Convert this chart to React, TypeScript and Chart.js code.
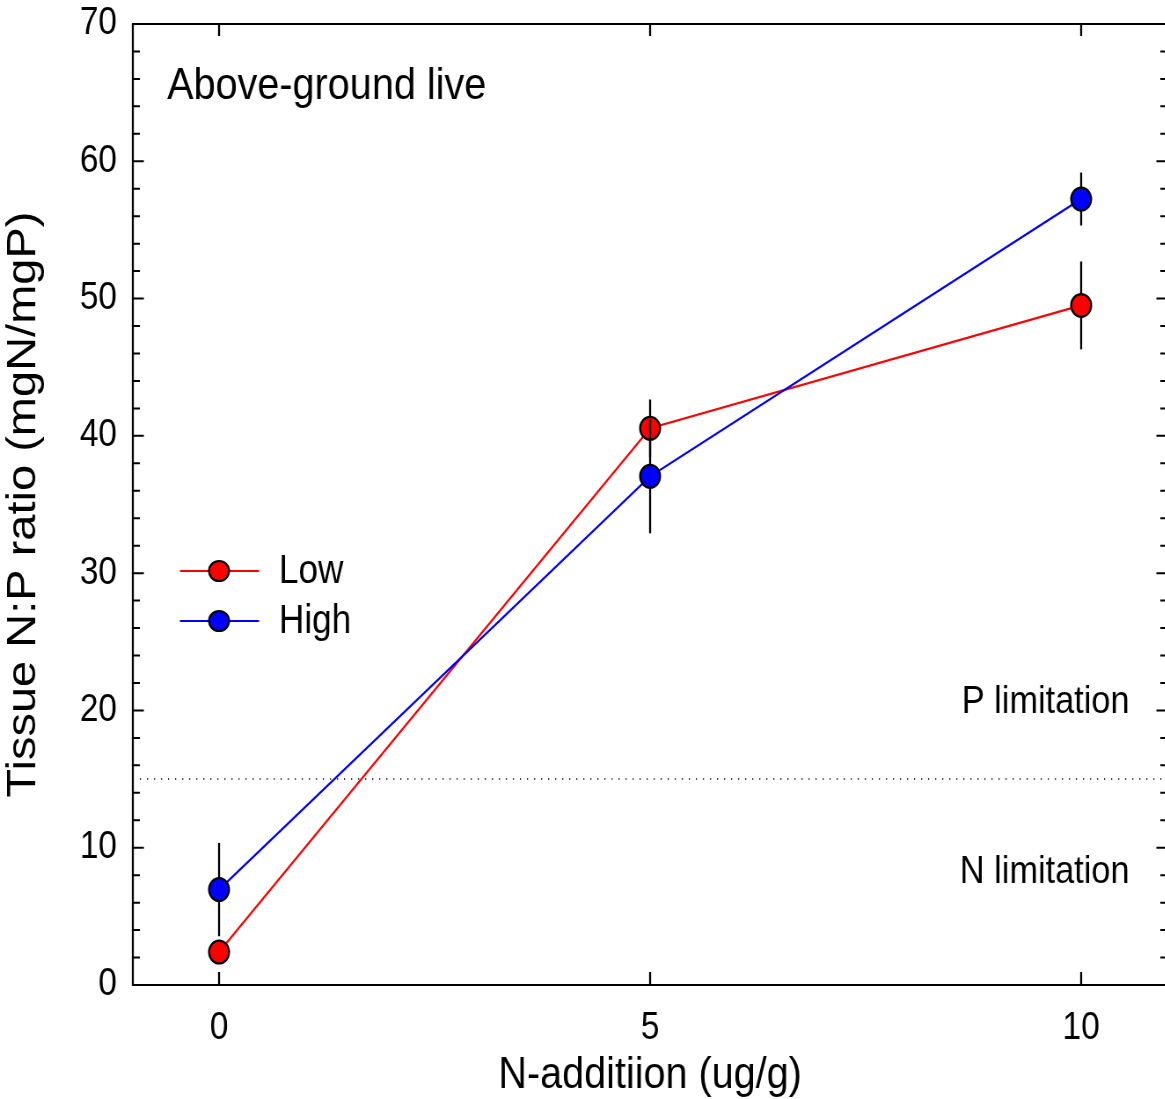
import React, { useEffect, useRef } from 'react';
import { Chart, registerables } from 'chart.js';

Chart.register(...registerables);

// ---- data ----
const nAddition = [0, 5, 10];
const lowValues = [2.4, 40.55, 49.5];
const lowErrors = [0.5, 2.1, 3.2];
const highValues = [6.95, 37.05, 57.25];
const highErrors = [3.4, 4.15, 1.93];
const seriesNames = ['Low', 'High'];
const seriesColors = ['#ff0000', '#0000ff'];
const xTicks = [0, 5, 10];
const yTicks = [0, 10, 20, 30, 40, 50, 60, 70];
const yMinorStep = 2;
const limitThreshold = 15;
const panelLabel = 'Above-ground live';
const zoneLabels = ['P limitation', 'N limitation'];
const xTitle = 'N-additiion (ug/g)';
const yTitle = 'Tissue N:P ratio (mgN/mgP)';

// ---- canvas geometry (backing px, displayed horizontally compressed) ----
const CANVAS_W = 1330;
const CANVAS_H = 1099;
const DISPLAY_W = 1170;
const FONT = "'Liberation Sans', Arial, Helvetica, sans-serif";

const errorBarPlugin = {
  id: 'errorBars',
  beforeDatasetDraw(chart: any, args: any) {
    const ds = chart.data.datasets[args.index];
    const errs: number[] = ds.errors || [];
    const { ctx, scales } = chart;
    ctx.save();
    ctx.strokeStyle = '#000';
    ctx.lineWidth = 2.3;
    ds.data.forEach((p: any, i: number) => {
      const e = errs[i];
      if (!e) return;
      const px = scales.x.getPixelForValue(p.x);
      const y1 = scales.y.getPixelForValue(p.y - e);
      const y2 = scales.y.getPixelForValue(p.y + e);
      ctx.beginPath();
      ctx.moveTo(px, y1);
      ctx.lineTo(px, y2);
      ctx.stroke();
    });
    ctx.restore();
  },
};

const thresholdPlugin = {
  id: 'threshold',
  beforeDatasetsDraw(chart: any) {
    const { ctx, chartArea: a, scales } = chart;
    const ty = scales.y.getPixelForValue(limitThreshold);
    ctx.save();
    ctx.strokeStyle = '#000';
    ctx.lineWidth = 1.4;
    ctx.setLineDash([1.3, 6.7]);
    ctx.beginPath();
    ctx.moveTo(a.left + 8, ty);
    ctx.lineTo(a.right, ty);
    ctx.stroke();
    ctx.restore();
  },
};

const framePlugin = {
  id: 'frame',
  afterDraw(chart: any) {
    const { ctx, chartArea: a, scales } = chart;
    const xs = scales.x;
    const ys = scales.y;
    ctx.save();
    ctx.strokeStyle = '#000';
    // horizontal frame lines
    ctx.lineWidth = 2;
    ctx.beginPath();
    ctx.moveTo(a.left - 1, a.top);
    ctx.lineTo(a.right + 1, a.top);
    ctx.moveTo(a.left - 1, a.bottom);
    ctx.lineTo(a.right + 1, a.bottom);
    ctx.stroke();
    // vertical frame lines
    ctx.lineWidth = 2.3;
    ctx.beginPath();
    ctx.moveTo(a.left, a.top);
    ctx.lineTo(a.left, a.bottom);
    ctx.moveTo(a.right, a.top);
    ctx.lineTo(a.right, a.bottom);
    ctx.stroke();
    // y ticks (inward, both sides)
    ctx.lineWidth = 2;
    const yMin = ys.min, yMax = ys.max;
    for (let v = yMin; v <= yMax + 1e-9; v += yMinorStep) {
      const major = yTicks.includes(Math.round(v * 1000) / 1000);
      const len = major ? 12.5 : 8;
      const py = ys.getPixelForValue(v);
      ctx.beginPath();
      ctx.moveTo(a.left, py);
      ctx.lineTo(a.left + len, py);
      ctx.moveTo(a.right, py);
      ctx.lineTo(a.right - len, py);
      ctx.stroke();
    }
    // x ticks (inward, top and bottom)
    ctx.lineWidth = 2.3;
    xTicks.forEach((v) => {
      const px = xs.getPixelForValue(v);
      ctx.beginPath();
      ctx.moveTo(px, a.bottom);
      ctx.lineTo(px, a.bottom - 13);
      ctx.moveTo(px, a.top);
      ctx.lineTo(px, a.top + 12);
      ctx.stroke();
    });

    // legend
    const legendY = [571, 621];
    const lx0 = 204.5, lx1 = 294.5, mx = 249, tx = 317;
    seriesNames.forEach((name, i) => {
      const y = legendY[i];
      ctx.strokeStyle = seriesColors[i];
      ctx.lineWidth = 2;
      ctx.beginPath();
      ctx.moveTo(lx0, y);
      ctx.lineTo(lx1, y);
      ctx.stroke();
      ctx.beginPath();
      ctx.ellipse(mx, y, 11.4, 10, 0, 0, Math.PI * 2);
      ctx.fillStyle = seriesColors[i];
      ctx.fill();
      ctx.strokeStyle = '#000';
      ctx.lineWidth = 2.2;
      ctx.stroke();
      ctx.fillStyle = '#000';
      ctx.font = `40px ${FONT}`;
      ctx.textAlign = 'left';
      ctx.textBaseline = 'middle';
      ctx.fillText(name, tx, y + 1);
    });

    // panel & zone labels
    ctx.fillStyle = '#000';
    ctx.textBaseline = 'alphabetic';
    ctx.textAlign = 'left';
    ctx.font = `45px ${FONT}`;
    ctx.fillText(panelLabel, 190, 99);
    ctx.textAlign = 'right';
    ctx.font = `39px ${FONT}`;
    ctx.fillText(zoneLabels[0], 1284, 713);
    ctx.fillText(zoneLabels[1], 1284, 883);
    ctx.restore();
  },
};

export default function App() {
  const ref = useRef<HTMLCanvasElement>(null);

  useEffect(() => {
    const canvas = ref.current;
    if (!canvas) return;
    const makeData = (vals: number[]) => nAddition.map((x, i) => ({ x, y: vals[i] }));
    const chart = new Chart(canvas, {
      type: 'line',
      data: {
        datasets: [
          {
            label: seriesNames[0],
            data: makeData(lowValues),
            errors: lowErrors,
            borderColor: seriesColors[0],
            backgroundColor: seriesColors[0],
            borderWidth: 2.2,
            pointRadius: 11.4,
            pointBorderWidth: 2.2,
            pointBackgroundColor: seriesColors[0],
            pointBorderColor: '#000',
            tension: 0,
            order: 2,
          } as any,
          {
            label: seriesNames[1],
            data: makeData(highValues),
            errors: highErrors,
            borderColor: seriesColors[1],
            backgroundColor: seriesColors[1],
            borderWidth: 2.2,
            pointRadius: 11.4,
            pointBorderWidth: 2.2,
            pointBackgroundColor: seriesColors[1],
            pointBorderColor: '#000',
            tension: 0,
            order: 1,
          } as any,
        ],
      },
      options: {
        responsive: false,
        animation: false,
        devicePixelRatio: 1,
        events: [],
        layout: { autoPadding: false, padding: { top: 24, right: 3, left: 0, bottom: 0 } },
        plugins: {
          legend: { display: false },
          tooltip: { enabled: false },
        },
        scales: {
          x: {
            type: 'linear',
            min: -1,
            max: 11,
            grid: { display: false, drawTicks: false },
            border: { display: false },
            afterBuildTicks: (s: any) => {
              s.ticks = xTicks.map((v) => ({ value: v }));
            },
            afterFit: (s: any) => {
              s.height = CANVAS_H - 985;
              s.paddingLeft = 0;
              s.paddingRight = 0;
            },
            ticks: {
              color: '#000',
              font: { family: FONT, size: 38, lineHeight: 1.2 },
              padding: 21,
              maxRotation: 0,
              minRotation: 0,
              autoSkip: false,
            },
            title: {
              display: true,
              text: xTitle,
              color: '#000',
              font: { family: FONT, size: 45, lineHeight: 1 },
              padding: { top: 0, bottom: 1 },
            },
          },
          y: {
            type: 'linear',
            min: 0,
            max: 70,
            grid: { display: false, drawTicks: false },
            border: { display: false },
            afterBuildTicks: (s: any) => {
              s.ticks = yTicks.map((v) => ({ value: v }));
            },
            afterFit: (s: any) => {
              s.width = 151;
              s.paddingTop = 0;
              s.paddingBottom = 0;
            },
            ticks: {
              color: '#000',
              font: { family: FONT, size: 38, lineHeight: 1.2 },
              padding: 18,
            },
            title: {
              display: true,
              text: yTitle,
              color: '#000',
              font: { family: FONT, size: 47, lineHeight: 1 },
              padding: { top: 4, bottom: 0 },
            },
          },
        },
      } as any,
      plugins: [thresholdPlugin, errorBarPlugin, framePlugin],
    });
    return () => chart.destroy();
  }, []);

  return (
    <div
      style={{
        position: 'fixed',
        left: 0,
        top: 0,
        width: 1165,
        height: 1099,
        overflow: 'hidden',
        background: '#fff',
      }}
    >
      <canvas
        ref={ref}
        width={CANVAS_W}
        height={CANVAS_H}
        style={{ width: `${DISPLAY_W}px`, height: `${CANVAS_H}px`, display: 'block' }}
      />
    </div>
  );
}
